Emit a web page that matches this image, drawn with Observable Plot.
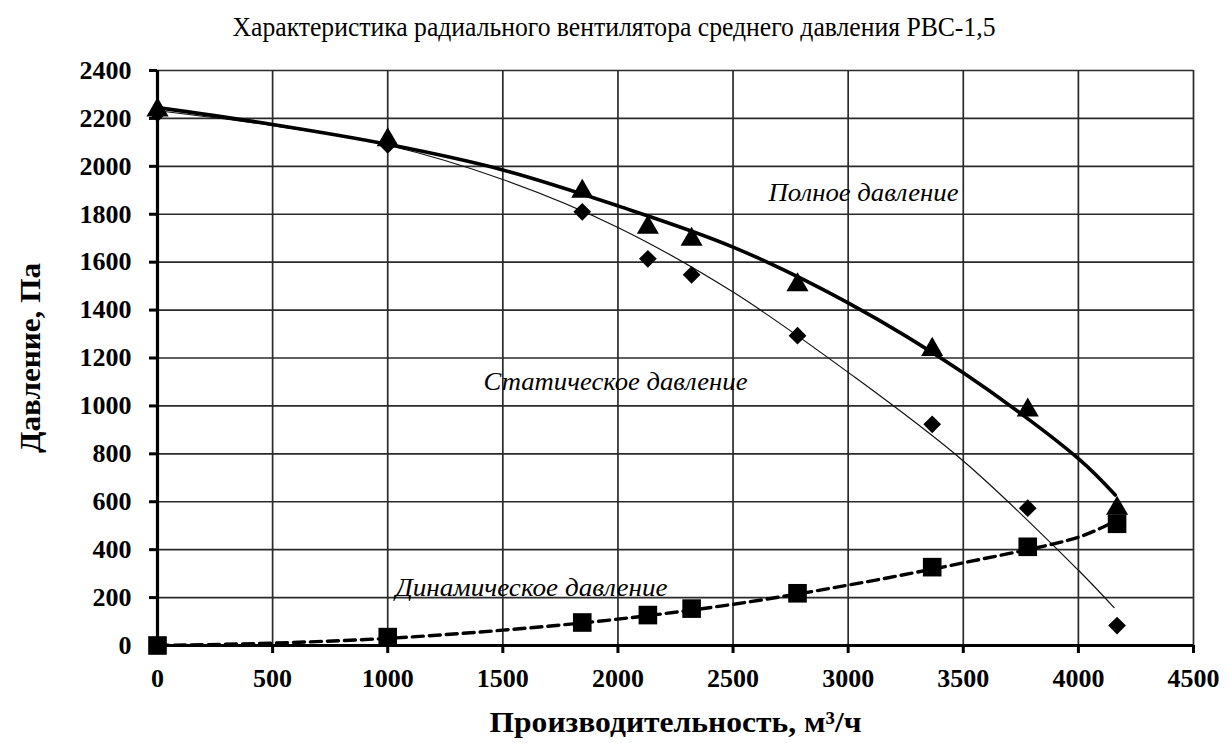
<!DOCTYPE html>
<html><head><meta charset="utf-8">
<script src="https://cdn.jsdelivr.net/npm/d3@7"></script>
<script src="https://cdn.jsdelivr.net/npm/@observablehq/plot@0.6"></script>
<style>
html,body{margin:0;padding:0;background:#fff;}
#head{height:50px;width:1229px;position:relative;}
#head span{position:absolute;left:614px;top:12px;transform:translateX(-50%) scaleX(0.95);white-space:nowrap;font-family:"Liberation Serif";font-size:27px;color:#000;}
</style></head><body>
<div id="head"><span id="title"></span></div>
<div id="chart"></div>
<script>
const titleText = "Характеристика радиального  вентилятора среднего давления РВС-1,5";
const xLabel = "Производительность, м³/ч";
const yLabel = "Давление, Па";

// measured points
const flow = [0, 1000, 1845, 2130, 2320, 2780, 3365, 3780, 4168];
const totalPts = [2235, 2110, 1895, 1745, 1695, 1505, 1235, 982, 572];
const staticPts = [2222, 2090, 1810, 1614, 1547, 1293, 923, 573, 83];
const dynamicPts = [0, 35, 96, 127, 154, 218, 327, 412, 508];

// trend curves
const totalCurveX = [0, 500, 1000, 1500, 2000, 2500, 3000, 3500, 4000, 4160];
const totalCurveY = [2245, 2175, 2092, 1985, 1835, 1663, 1430, 1138, 780, 628];
const staticCurveX = [0, 500, 1000, 1500, 2000, 2500, 3000, 3500, 4000, 4155];
const staticCurveY = [2232, 2170, 2088, 1945, 1745, 1475, 1140, 770, 314, 158];
const dynamicCurveX = [0, 500, 1000, 1500, 2000, 2500, 3000, 3500, 4000, 4130];
const dynamicCurveY = [0, 10, 30, 64, 110, 172, 252, 345, 452, 505];

const xTicks = [0, 500, 1000, 1500, 2000, 2500, 3000, 3500, 4000, 4500];
const yTicks = [0, 200, 400, 600, 800, 1000, 1200, 1400, 1600, 1800, 2000, 2200, 2400];

const seriesLabels = ["Полное давление", "Статическое давление", "Динамическое давление"];
const seriesLabelX = [2654, 1416, 1034];
const seriesLabelY = [1891, 1102, 242];

document.getElementById("title").textContent = titleText;

const pts = flow.map((q, i) => ({q, total: totalPts[i], stat: staticPts[i], dyn: dynamicPts[i]}));
const curve = (xs, ys) => xs.map((x, i) => ({x, y: ys[i]}));
const labels = seriesLabels.map((t, i) => ({t, x: seriesLabelX[i], y: seriesLabelY[i]}));

const plot = Plot.plot({
  width: 1229,
  height: 693,
  marginLeft: 157,
  marginRight: 36,
  marginTop: 20,
  marginBottom: 98,
  style: {fontFamily: "Liberation Serif", fontSize: "26px", fontWeight: "bold", color: "#000", background: "#fff"},
  x: {domain: [0, 4500]},
  y: {domain: [0, 2400]},
  marks: [
    Plot.gridX(xTicks, {stroke: "#2a2a2a", strokeOpacity: 1, strokeWidth: 1.7}),
    Plot.gridY(yTicks, {stroke: "#2a2a2a", strokeOpacity: 1, strokeWidth: 1.7}),
    Plot.axisX(xTicks, {tickSize: 8, tickPadding: 15, tickFormat: d => String(d), strokeWidth: 3, label: null, fontSize: 26, fontWeight: "bold"}),
    Plot.axisY(yTicks, {tickSize: 8, tickPadding: 18, tickFormat: d => String(d), strokeWidth: 3, label: null, fontSize: 26, fontWeight: "bold"}),
    Plot.ruleX([0], {stroke: "#000", strokeWidth: 3.2}),
    Plot.ruleY([0], {stroke: "#000", strokeWidth: 3.2}),
    Plot.line(curve(staticCurveX, staticCurveY), {x: "x", y: "y", stroke: "#111", strokeWidth: 1.2, curve: "catmull-rom"}),
    Plot.line(curve(totalCurveX, totalCurveY), {x: "x", y: "y", stroke: "#000", strokeWidth: 3.6, curve: "catmull-rom"}),
    Plot.line(curve(dynamicCurveX, dynamicCurveY), {x: "x", y: "y", stroke: "#000", strokeWidth: 3.4, strokeDasharray: "11,6", curve: "catmull-rom"}),
    Plot.dot(pts, {x: "q", y: "stat", symbol: "diamond2", r: 8, fill: "#000", stroke: "none"}),
    Plot.dot(pts, {x: "q", y: "dyn", symbol: "square", r: 10.5, fill: "#000", stroke: "none"}),
    Plot.dot(pts, {x: "q", y: "total", symbol: "triangle", r: 8.2, fill: "#000", stroke: "none"}),
    Plot.text(labels, {x: "x", y: "y", text: "t", textAnchor: "start", fontStyle: "italic", fontWeight: "normal", fontSize: 26, fill: "#000"}),
    Plot.text([xLabel], {frameAnchor: "bottom", dy: 86, fontSize: 30, fontWeight: "bold", fill: "#000"}),
    Plot.text([yLabel], {frameAnchor: "left", dx: -127, dy: 95, rotate: -90, textAnchor: "start", fontSize: 29, fontWeight: "bold", fill: "#000"})
  ]
});
document.getElementById("chart").append(plot);

const labelWidths = [190, 264, 272];
plot.querySelectorAll("text").forEach(t => {
  const i = seriesLabels.indexOf(t.textContent);
  if (i >= 0) { t.setAttribute("textLength", labelWidths[i]); t.setAttribute("lengthAdjust", "spacingAndGlyphs"); }
  if (t.textContent === yLabel) { t.setAttribute("textLength", 190); t.setAttribute("lengthAdjust", "spacingAndGlyphs"); }
  if (t.textContent === xLabel) { t.setAttribute("textLength", 372); t.setAttribute("lengthAdjust", "spacingAndGlyphs"); }
});
</script>
</body></html>
